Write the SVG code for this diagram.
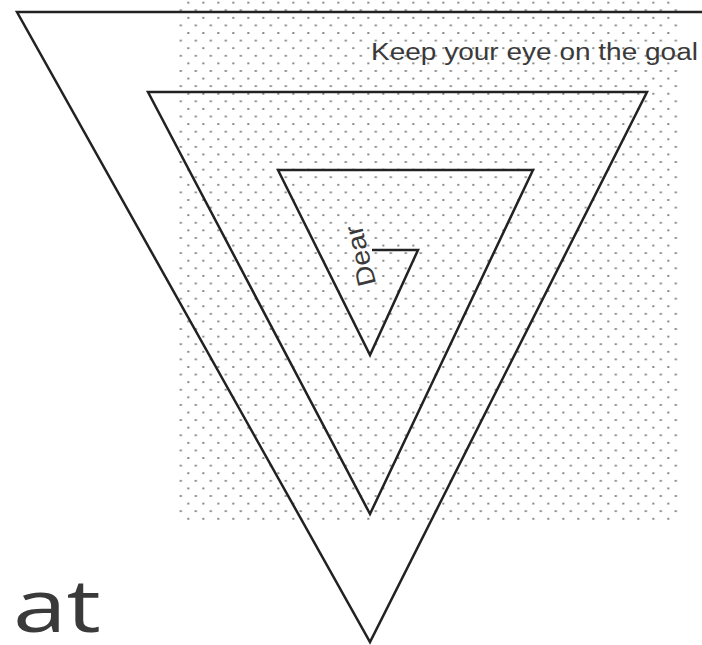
<svg xmlns="http://www.w3.org/2000/svg" width="702" height="645" viewBox="0 0 702 645">
<defs>
<pattern id="dots" patternUnits="userSpaceOnUse" x="7.3" y="1.7" width="15" height="15.18">
<ellipse cx="1" cy="1" rx="1.3" ry="0.9" fill="#7a7a7a"/>
<ellipse cx="8.5" cy="8.59" rx="1.3" ry="0.9" fill="#7a7a7a"/>
</pattern>
<style>
.spiral{fill:none;stroke:#222;stroke-width:2.5;stroke-linejoin:miter}
.lbl{font-family:"Liberation Sans",Arial,sans-serif;fill:#3a3a3a}
</style>
</defs>
<rect width="702" height="645" fill="#fff"/>
<rect id="dotted-area" x="178" y="0" width="502" height="524" fill="url(#dots)"/>
<g id="connectors">
<path class="spiral" d="M702,12 L17,12 L370,642 L647,92 L148,92 L370,514 L533,170 L278,170 L370,355 L418,250 L372,250"/>
</g>
<g id="goal-label">
<text class="lbl" x="371" y="60" font-size="23.5" textLength="327" lengthAdjust="spacingAndGlyphs">Keep your eye on the goal</text>
</g>
<g id="dear-label">
<text class="lbl" font-size="26" text-anchor="middle" dy="0.35em" textLength="62" lengthAdjust="spacingAndGlyphs" transform="translate(360,256) rotate(-104)">Dear</text>
</g>
<g id="at-label">
<text x="13" y="632" font-family="'Open Sans','Liberation Sans',sans-serif" font-size="74" fill="#3a3a3a" textLength="88" lengthAdjust="spacingAndGlyphs">at</text>
</g>
</svg>
